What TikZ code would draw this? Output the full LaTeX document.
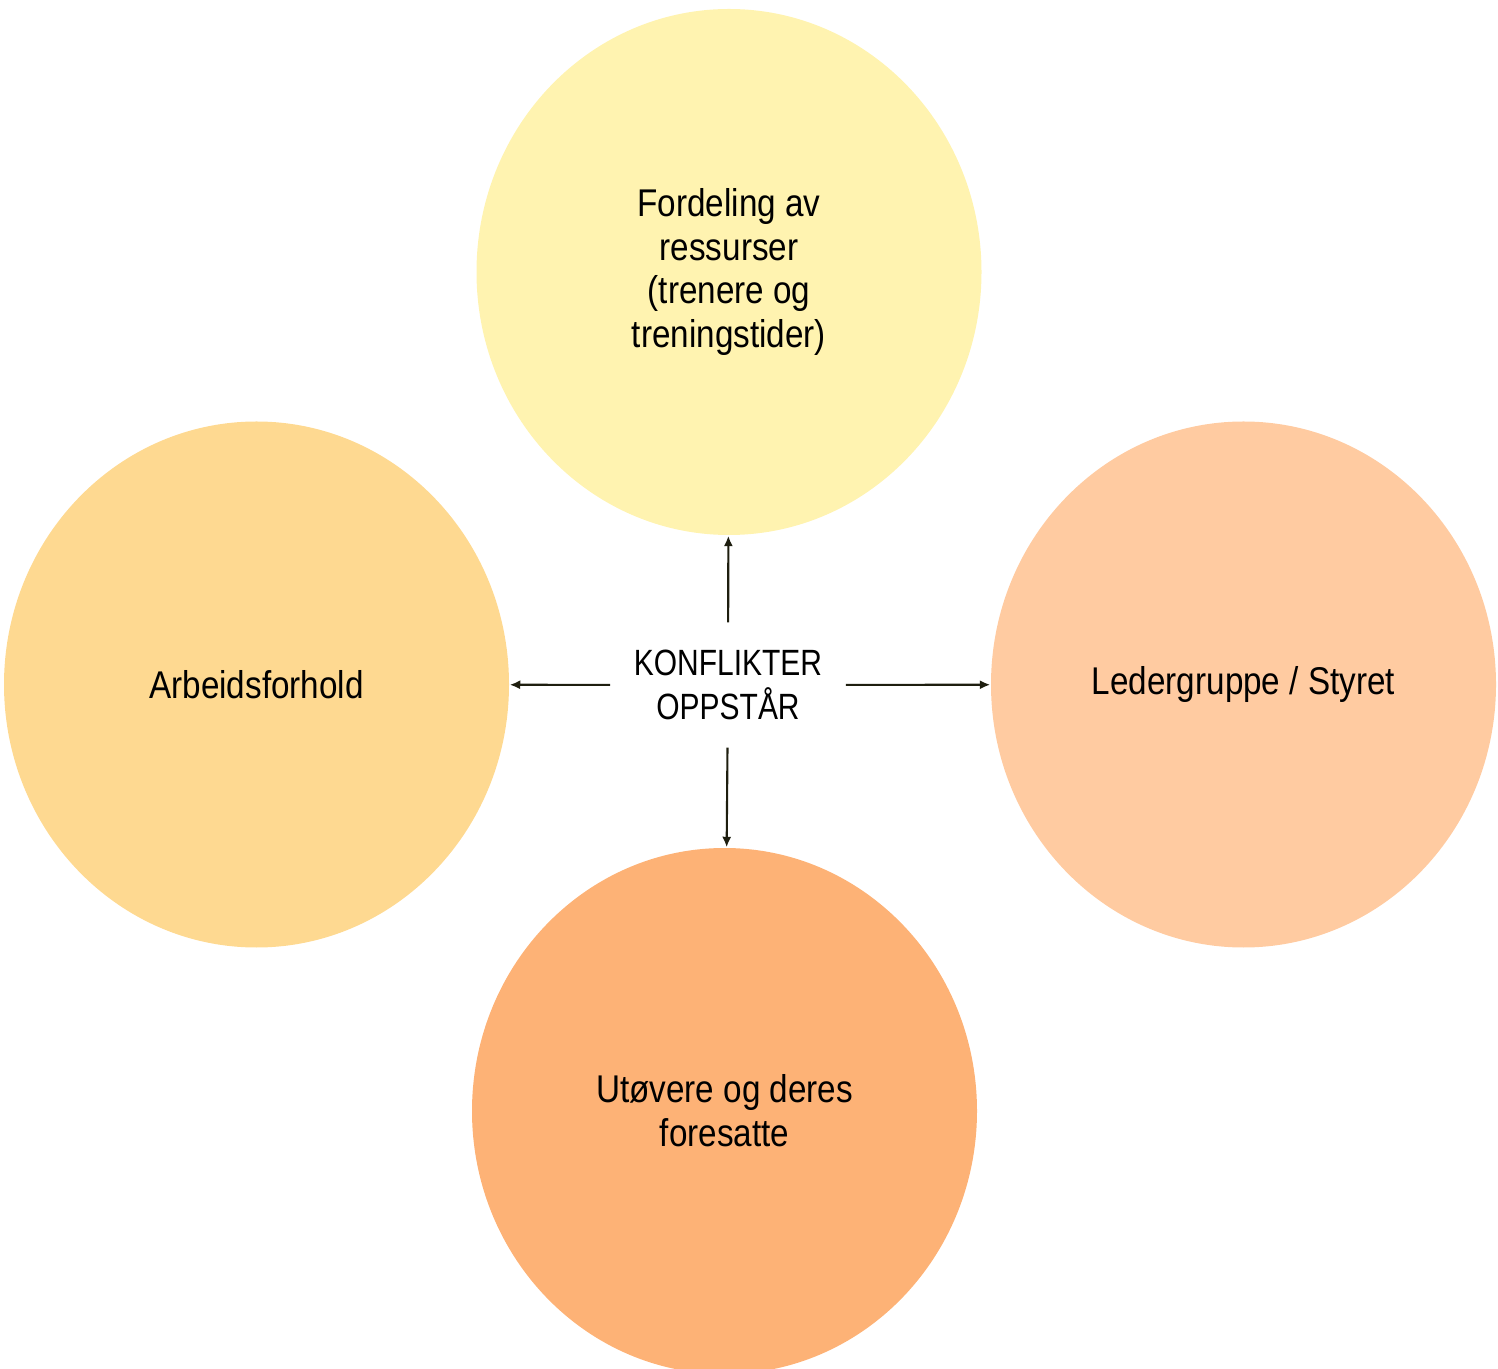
\documentclass[tikz,border=0pt]{standalone}
\usepackage{fontspec}
\setmainfont{Liberation Sans}[FakeStretch=0.82]
\newfontfamily\sirkelfont{Liberation Sans}[FakeStretch=0.86]
\usepackage{tikz}
\usetikzlibrary{arrows.meta,shapes.geometric}

\definecolor{gulLys}{RGB}{255,243,176}
\definecolor{gulMid}{RGB}{254,217,145}
\definecolor{ferskenLys}{RGB}{255,203,161}
\definecolor{oransje}{RGB}{253,178,118}
\definecolor{pilfarge}{RGB}{30,30,15}

\begin{document}
\begin{tikzpicture}[x=1cm,y=1cm,>={Latex[length=3pt,width=2.6pt]},font=\fontsize{10.4}{12.5}\selectfont]
  \tikzset{
    sirkel/.style={ellipse,minimum width=5.05cm,minimum height=5.26cm,inner sep=0pt,align=center,
      font=\sirkelfont\fontsize{11}{12.5}\selectfont},
    pil/.style={->,pilfarge,line width=0.6pt}
  }
  \useasboundingbox (0,0) rectangle (14.98,-13.69);
  \node[sirkel,fill=gulLys] (fordeling) at (7.29,-2.72) {Fordeling av\\ressurser\\(trenere og\\treningstider)};
  \node[sirkel,fill=gulMid] (arbeid) at (2.565,-6.845) {Arbeidsforhold};
  \node[sirkel,fill=ferskenLys] (leder) at (12.435,-6.845) {Ledergruppe / Styret};
  \node[sirkel,fill=oransje] (utovere) at (7.245,-11.11) {Utøvere og deres\\foresatte};
  % midten
  \node[align=center,inner xsep=0.23cm,inner ysep=0.27cm] (konflikt) at (7.28,-6.85) {KONFLIKTER\\OPPSTÅR};
  \draw[pil] (konflikt) -- (fordeling);
  \draw[pil] (konflikt) -- (arbeid);
  \draw[pil] (konflikt) -- (leder);
  \draw[pil] (konflikt) -- (utovere);
\end{tikzpicture}
\end{document}
